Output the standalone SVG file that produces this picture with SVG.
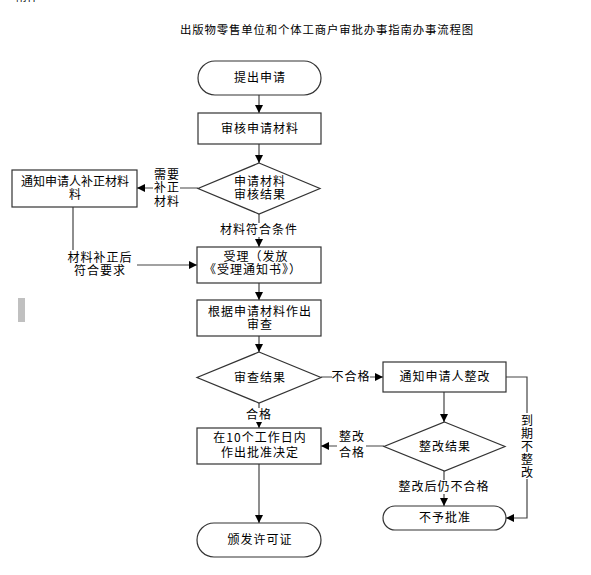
<svg xmlns="http://www.w3.org/2000/svg" width="591" height="575" viewBox="0 0 591 575">
<defs>
<style>
text{font-family:"Noto Sans CJK SC","Liberation Sans",sans-serif;font-size:12px;fill:#000;text-anchor:middle;letter-spacing:1px}
.shape{fill:#fff;stroke:#333;stroke-width:1.2}
.line{fill:none;stroke:#444;stroke-width:1.2}
.bg{fill:#fff;stroke:none}
</style>
<marker id="arr" viewBox="0 0 10 10" refX="10" refY="5" markerWidth="8" markerHeight="8" markerUnits="userSpaceOnUse" orient="auto">
<path d="M0,0 L10,5 L0,10 Z" fill="#000"/>
</marker>
</defs>
<rect width="591" height="575" fill="#fff"/>
<text x="27" y="1" style="font-size:11px;letter-spacing:0">附件</text>
<text x="327" y="34" style="font-size:11.4px;letter-spacing:0.85px">出版物零售单位和个体工商户审批办事指南办事流程图</text>
<rect x="18" y="298" width="7" height="24" fill="#c0c0c0"/>

<g id="connectors">
<line class="line" x1="259" y1="95" x2="259" y2="113" marker-end="url(#arr)"/>
<line class="line" x1="259" y1="144" x2="259" y2="163" marker-end="url(#arr)"/>
<line class="line" x1="198" y1="188" x2="137" y2="188" marker-end="url(#arr)"/>
<rect class="bg" x="153" y="166" width="27" height="40"/>
<text x="167" y="179">需要</text>
<text x="167" y="192">补正</text>
<text x="167" y="206">材料</text>
<line class="line" x1="259" y1="214" x2="259" y2="247" marker-end="url(#arr)"/>
<rect class="bg" x="218" y="223" width="82" height="14"/>
<text x="259" y="234">材料符合条件</text>
<polyline class="line" points="73,207 73,265 197,265" marker-end="url(#arr)"/>
<rect class="bg" x="62" y="250" width="75" height="28"/>
<text x="100" y="262">材料补正后</text>
<text x="100" y="275">符合要求</text>
<line class="line" x1="259" y1="283" x2="259" y2="300" marker-end="url(#arr)"/>
<line class="line" x1="259" y1="336" x2="259" y2="352" marker-end="url(#arr)"/>
<line class="line" x1="321" y1="377" x2="383" y2="377" marker-end="url(#arr)"/>
<rect class="bg" x="332" y="370" width="38" height="14"/>
<text x="351" y="381">不合格</text>
<line class="line" x1="259" y1="403" x2="259" y2="428" marker-end="url(#arr)"/>
<rect class="bg" x="245" y="408" width="28" height="14"/>
<text x="259" y="419">合格</text>
<line class="line" x1="444" y1="392" x2="444" y2="422" marker-end="url(#arr)"/>
<line class="line" x1="384" y1="446" x2="321" y2="446" marker-end="url(#arr)"/>
<rect class="bg" x="337" y="430" width="29" height="28"/>
<text x="352" y="441">整改</text>
<text x="352" y="457">合格</text>
<line class="line" x1="444" y1="471" x2="444" y2="506" marker-end="url(#arr)"/>
<rect class="bg" x="396" y="480" width="96" height="14"/>
<text x="444" y="491">整改后仍不合格</text>
<polyline class="line" points="506,377 527,377 527,518 506,518" marker-end="url(#arr)"/>
<rect class="bg" x="519" y="413" width="16" height="66"/>
<text x="527" y="425" style="letter-spacing:0">到</text>
<text x="527" y="438" style="letter-spacing:0">期</text>
<text x="527" y="451" style="letter-spacing:0">不</text>
<text x="527" y="464" style="letter-spacing:0">整</text>
<text x="527" y="477" style="letter-spacing:0">改</text>
<line class="line" x1="259" y1="464" x2="259" y2="523" marker-end="url(#arr)"/>
</g>

<g id="start">
<rect class="shape" x="198" y="61" width="123" height="34" rx="17"/>
<text x="260" y="82">提出申请</text>
</g>
<g id="review">
<rect class="shape" x="198" y="113" width="123" height="31"/>
<text x="260" y="133">审核申请材料</text>
</g>
<g id="check1">
<polygon class="shape" points="259,163 320,188.5 259,214 198,188.5"/>
<text x="260" y="186">申请材料</text>
<text x="260" y="199">审核结果</text>
</g>
<g id="notify1">
<rect class="shape" x="12" y="170" width="125" height="37"/>
<text x="75" y="186" style="letter-spacing:0">通知申请人补正材料</text>
<text x="75" y="199" style="letter-spacing:0">料</text>
</g>
<g id="accept">
<rect class="shape" x="197" y="247" width="124" height="36"/>
<text x="256" y="261">受理（发放</text>
<text x="253" y="274">《受理通知书》）</text>
</g>
<g id="examine">
<rect class="shape" x="197" y="300" width="124" height="36"/>
<text x="260" y="316">根据申请材料作出</text>
<text x="260" y="329">审查</text>
</g>
<g id="check2">
<polygon class="shape" points="259,352 321,377.5 259,403 197,377.5"/>
<text x="260" y="382">审查结果</text>
</g>
<g id="decide">
<rect class="shape" x="197" y="428" width="124" height="36"/>
<text x="260" y="442">在10个工作日内</text>
<text x="260" y="457">作出批准决定</text>
</g>
<g id="rectify">
<rect class="shape" x="383" y="362" width="123" height="30"/>
<text x="445" y="381">通知申请人整改</text>
</g>
<g id="check3">
<polygon class="shape" points="444.5,422 505,446.5 444.5,471 384,446.5"/>
<text x="445" y="451">整改结果</text>
</g>
<g id="reject">
<rect class="shape" x="383" y="506" width="123" height="24" rx="12"/>
<text x="445" y="522">不予批准</text>
</g>
<g id="issue">
<rect class="shape" x="197" y="523" width="124" height="34" rx="17"/>
<text x="260" y="544">颁发许可证</text>
</g>
</svg>
